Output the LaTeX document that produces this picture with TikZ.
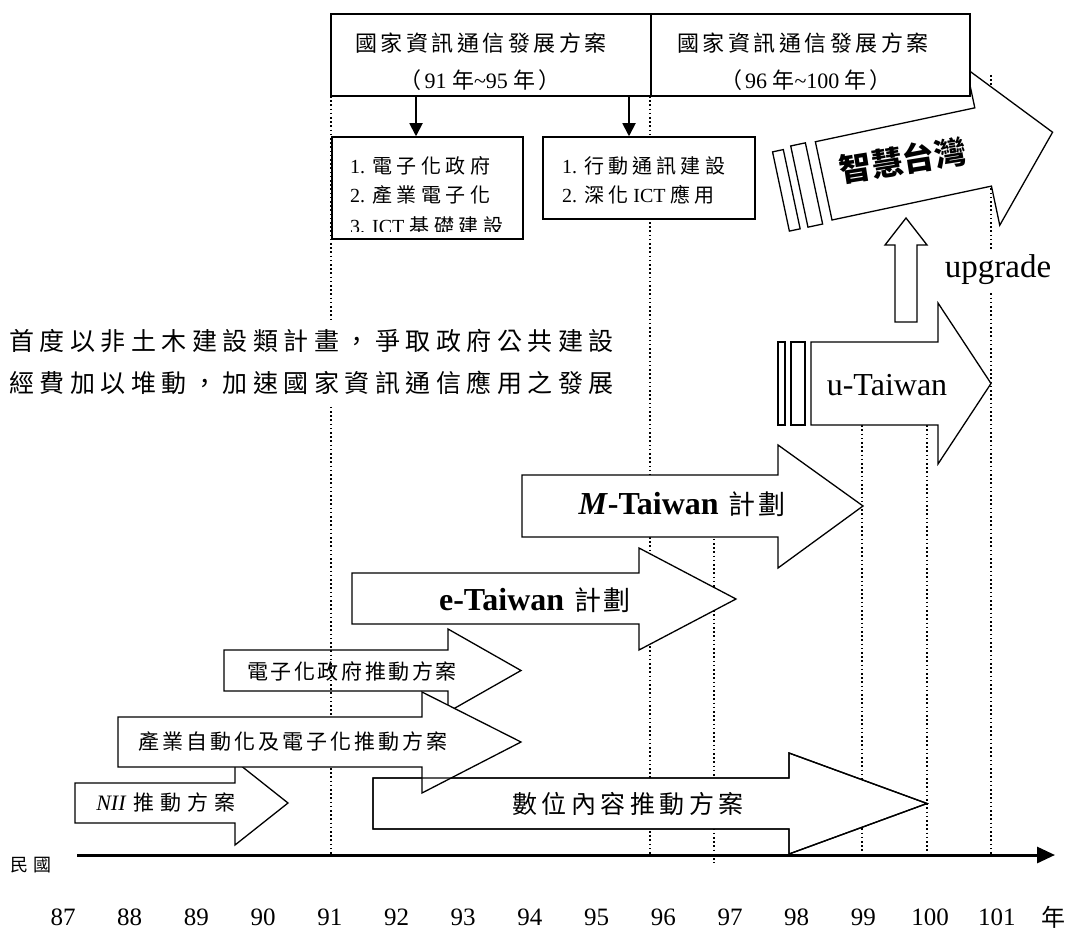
\documentclass[tikz,border=0pt]{standalone}
\usepackage{fontspec}
\setmainfont{Liberation Serif}
\newfontfamily\cjk{Noto Sans CJK TC}
\usetikzlibrary{arrows.meta}
\newcommand\zh[1]{{\cjk #1}}
\newcommand\zhs[2]{{\cjk\addfontfeature{LetterSpace=#1}#2}}
\newcommand\fs[1]{\fontsize{#1}{#1}\selectfont}
\begin{document}
\begin{tikzpicture}[x=1pt,y=-1pt,
  dotline/.style={line width=1.6pt, dash pattern=on 1.6pt off 2.6pt},
  blockarrow/.style={draw, fill=white, line width=1.3pt, line join=miter},
  openarrow/.style={draw, line width=1.3pt, line join=miter},
  boxnode/.style={draw, fill=white, line width=1.5pt, inner sep=0pt},
  txt/.style={inner sep=0pt, anchor=center},
  conn/.style={line width=1.8pt, -{Triangle[length=13pt,width=13pt]}}]
\useasboundingbox (0,0) rectangle (1071,931);
\fill[white] (0,0) rectangle (1071,931);

% dotted year lines
\foreach \x/\ya/\yb in {331/96/855, 650/96/855, 714/480/863, 862/400/855, 927/400/855, 991/75/855}
  \draw[dotline] (\x,\ya) -- (\x,\yb);

% left paragraph (white box)
\node[txt, anchor=west, fill=white, inner xsep=2pt, inner ysep=9pt, align=left,
      font={\fontsize{25}{42}\selectfont\cjk\addfontfeature{LetterSpace=22}}] (para) at (7,362)
  {首度以非土木建設類計畫，爭取政府公共建設\\經費加以堆動，加速國家資訊通信應用之發展};

% block arrows
\draw[openarrow] (224,650) -- (448,650) -- (448,629) -- (521,670.5) -- (448,712) -- (448,691) -- (224,691) -- cycle;
\draw[blockarrow] (352,573) -- (639,573) -- (639,548) -- (736,599) -- (639,650) -- (639,624) -- (352,624) -- cycle;
\draw[blockarrow] (522,475) -- (778,475) -- (778,445) -- (863,506) -- (778,568) -- (778,537) -- (522,537) -- cycle;
\draw[blockarrow] (75,783) -- (235,783) -- (235,761) -- (288,803) -- (235,845) -- (235,823) -- (75,823) -- cycle;
\draw[blockarrow] (373,778) -- (789,778) -- (789,753) -- (927,803.5) -- (789,854) -- (789,829) -- (373,829) -- cycle;
\draw[blockarrow] (118,717) -- (422,717) -- (422,692) -- (521,742) -- (422,793) -- (422,767) -- (118,767) -- cycle;
\draw[openarrow] (373,778) -- (789,778) -- (789,753) -- (927,803.5) -- (789,854) -- (789,829) -- (373,829) -- cycle;

% u-Taiwan
\draw[blockarrow] (778,342) rectangle (785,425);
\draw[blockarrow] (791,342) rectangle (805,425);
\draw[blockarrow] (811,342) -- (938,342) -- (938,303) -- (991,383.5) -- (938,464) -- (938,425) -- (811,425) -- cycle;

% upgrade arrow
\draw[blockarrow] (895,322) -- (895,245) -- (885,245) -- (906,218) -- (927,245) -- (917,245) -- (917,322) -- cycle;

% smart Taiwan arrow
\begin{scope}[shift={(832,220)}, rotate=12]
  \draw[blockarrow] (-44,-79) rectangle (-33,2);
  \draw[blockarrow] (-25,-81) rectangle (-10,2);
  \draw[blockarrow] (0,0) -- (0,-80) -- (163,-80) -- (163,-120) -- (234,-40) -- (163,40) -- (163,0) -- cycle;
\end{scope}

% top boxes
\node[boxnode, minimum width=320pt, minimum height=82pt] (topL) at (491,55) {};
\node[boxnode, minimum width=319pt, minimum height=82pt] (topR) at (810.5,55) {};
\node[boxnode, minimum width=191pt, minimum height=102pt] (box1) at (427.5,188) {};
\node[boxnode, minimum width=212pt, minimum height=82pt] (box2) at (649,178) {};
\coordinate (c1) at (416,0);
\coordinate (c2) at (629,0);
\draw[conn] (topL.south -| c1) -- (box1.north -| c1);
\draw[conn] (topL.south -| c2) -- (box2.north -| c2);

\node[txt] (tL1) at (481,43) {\fs{22}\zhs{16}{國家資訊通信發展方案}};
\node[txt] (tL2) at (480,80) {\fs{22}\zh{（}\hspace{3pt}91 \zh{年}\textasciitilde 95 \zh{年}\hspace{3pt}\zh{）}};
\node[txt] (tR1) at (803,43) {\fs{22}\zhs{16}{國家資訊通信發展方案}};
\node[txt] (tR2) at (806,80) {\fs{22}\zh{（}\hspace{3pt}96 \zh{年}\textasciitilde 100 \zh{年}\hspace{3pt}\zh{）}};

\node[txt, anchor=west] (b1a) at (350,166) {\fs{20}1.\hspace{7pt}\zhs{23}{電子化政府}};
\node[txt, anchor=west] (b1b) at (350,195) {\fs{20}2.\hspace{7pt}\zhs{23}{產業電子化}};
\begin{scope}
  \clip (333,138) rectangle (522,231);
  \node[txt, anchor=west] (b1c) at (350,225.8) {\fs{20}3.\hspace{7pt}ICT \zhs{23}{基礎建設}};
\end{scope}
\node[txt, anchor=west] (b2a) at (562,166) {\fs{20}1.\hspace{7pt}\zhs{21}{行動通訊建設}};
\node[txt, anchor=west] (b2b) at (562,195) {\fs{20}2.\hspace{7pt}\zhs{21}{深化} ICT \zhs{21}{應用}};

% arrow labels
\node[txt] (tEgov) at (352,671) {\fs{21}\zhs{12}{電子化政府推動方案}};
\node[txt] (tInd) at (293,742) {\fs{21}\zhs{14}{產業自動化及電子化推動方案}};
\node[txt] (tNII) at (166,803) {\fs{22}\textit{NII}\hspace{7pt}\fs{21}\zhs{29}{推動方案}};
\node[txt] (tDig) at (628,804) {\fs{25}\zhs{18}{數位內容推動方案}};
\node[txt] (tE) at (535,600) {\fs{32}\textbf{e-Taiwan}\hspace{10pt}\fs{27}\zhs{10}{計劃}};
\node[txt] (tM) at (682,504) {\fs{32}\textbf{\textit{M}-Taiwan}\hspace{10pt}\fs{27}\zhs{10}{計劃}};
\node[txt] (tU) at (887,385) {\fs{32}u-Taiwan};
\node[txt, fill=white, inner sep=6pt] (tUp) at (998,270) {\fs{33}upgrade};
\node[txt, rotate=9] (tSmart) at (903,160) {\fs{32}\cjk\bfseries 智慧台灣};

% axis
\coordinate (axS) at (77,855);
\coordinate (axE) at (1055,855);
\draw[line width=3pt, -{Triangle[length=18pt,width=16pt]}] (axS) -- (axE);
\node[txt] (minguo) at (31,865) {\fs{18}\zhs{30}{民國}};
\foreach \n [count=\i from 0] in {87,...,101}
  \node[txt] (y\n) at (63+\i*66.7,917) {\fs{25}\n};
\node[txt] (nian) at (1053,917) {\fs{24}\zh{年}};
\end{tikzpicture}
\end{document}
